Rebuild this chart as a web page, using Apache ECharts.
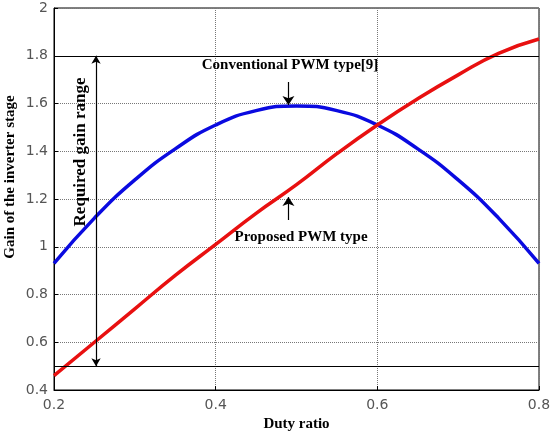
<!DOCTYPE html>
<html>
<head>
<meta charset="utf-8">
<script src="https://cdn.jsdelivr.net/npm/echarts@6/dist/echarts.min.js"></script>
<style>
  html, body { margin: 0; padding: 0; background: #fff; }
  #chart { width: 554px; height: 436px; }
</style>
</head>
<body>
<div id="chart"></div>
<script>
// duty ratio samples
var duty = [0.2, 0.25, 0.3, 0.35, 0.4, 0.45, 0.5, 0.55, 0.6, 0.65, 0.7, 0.75, 0.8];
// gain
var conventional = [0.93, 1.12, 1.28, 1.41, 1.51, 1.57, 1.59, 1.57, 1.51, 1.41, 1.28, 1.12, 0.93];
var proposed = [0.46, 0.60, 0.74, 0.88, 1.01, 1.14, 1.26, 1.39, 1.51, 1.62, 1.72, 1.81, 1.87];
var gainLimits = [0.5, 1.8];
var rangeDuty = 0.252;
var convArrow = [0.49, 1.69, 1.594];   // x, from y, to y
var propArrow = [0.49, 1.112, 1.208];

var chart = echarts.init(document.getElementById('chart'));

function pairs(xs, ys) {
    return xs.map(function (x, i) { return [x, ys[i]]; });
}
function fmt(v) { return String(parseFloat(v.toFixed(1))); }

var labelFont = { color: '#555', fontSize: 14, fontFamily: 'DejaVu Sans' };
var titleFont = { color: '#000', fontSize: 15, fontWeight: 'bold', fontFamily: 'Liberation Serif' };

var option = {
    animation: false,
    grid: {
        left: 54, right: 15, top: 8, bottom: 46,
        outerBoundsMode: 'none',
        containLabel: false,
        show: true, borderColor: '#000', borderWidth: 1
    },
    // y axis title sits a bit above the plot centre in the original
    graphic: [{
        type: 'text',
        x: 10, y: 177,
        rotation: Math.PI / 2,
        style: Object.assign({
            text: 'Gain of the inverter stage',
            textAlign: 'center', textVerticalAlign: 'middle',
            fill: '#000', font: 'bold 15px "Liberation Serif"'
        })
    }],
    xAxis: {
        type: 'value', min: 0.2, max: 0.8, interval: 0.2,
        name: 'Duty ratio', nameLocation: 'middle', nameGap: 27,
        nameTextStyle: titleFont,
        axisLine: { lineStyle: { color: '#000' } },
        axisTick: { inside: true, length: 4, lineStyle: { color: '#000' } },
        axisLabel: Object.assign({ formatter: fmt, margin: 8 }, labelFont),
        splitLine: { lineStyle: { type: 'dotted', color: '#777' } }
    },
    yAxis: {
        type: 'value', min: 0.4, max: 2, interval: 0.2,
        axisLine: { lineStyle: { color: '#000' } },
        axisTick: { inside: true, length: 4, lineStyle: { color: '#000' } },
        axisLabel: Object.assign({ formatter: fmt, margin: 6 }, labelFont),
        splitLine: { lineStyle: { type: 'dotted', color: '#777' } }
    },
    series: [
        {
            name: 'Conventional PWM type[9]',
            type: 'line',
            smooth: true,
            showSymbol: false,
            data: pairs(duty, conventional),
            lineStyle: { color: '#0a0ae0', width: 3.5 },
            z: 3
        },
        {
            name: 'Proposed PWM type',
            type: 'line',
            smooth: true,
            showSymbol: false,
            data: pairs(duty, proposed),
            lineStyle: { color: '#e81010', width: 3.5 },
            z: 3
        },
        {
            // reference lines, arrows and notes
            type: 'line',
            data: [],
            markLine: {
                silent: true,
                animation: false,
                symbol: ['none', 'none'],
                label: { show: false },
                lineStyle: { color: '#000', width: 1.2, type: 'solid' },
                data: [
                    { yAxis: gainLimits[0] },
                    { yAxis: gainLimits[1] },
                    [
                        { coord: [rangeDuty, gainLimits[0]], symbol: 'arrow', symbolSize: [7, 8] },
                        { coord: [rangeDuty, gainLimits[1]], symbol: 'arrow', symbolSize: [7, 8] }
                    ],
                    [
                        { coord: [convArrow[0], convArrow[1]], symbol: 'none' },
                        { coord: [convArrow[0], convArrow[2]], symbol: 'arrow', symbolSize: [9, 9] }
                    ],
                    [
                        { coord: [propArrow[0], propArrow[1]], symbol: 'none' },
                        { coord: [propArrow[0], propArrow[2]], symbol: 'arrow', symbolSize: [9, 9] }
                    ]
                ]
            },
            markPoint: {
                silent: true,
                symbol: 'circle', symbolSize: 0,
                data: [
                    {
                        coord: [0.492, 1.761], value: 'Conventional PWM type[9]',
                        label: Object.assign({ show: true, formatter: '{c}' }, titleFont)
                    },
                    {
                        coord: [0.5056, 1.041], value: 'Proposed PWM type',
                        label: Object.assign({ show: true, formatter: '{c}' }, titleFont)
                    },
                    {
                        coord: [0.233, 1.397], value: 'Required gain range',
                        label: Object.assign({ show: true, formatter: '{c}', rotate: 90 }, titleFont, { fontSize: 17 })
                    }
                ]
            }
        }
    ]
};

chart.setOption(option);
window.addEventListener('resize', chart.resize);
</script>
</body>
</html>
